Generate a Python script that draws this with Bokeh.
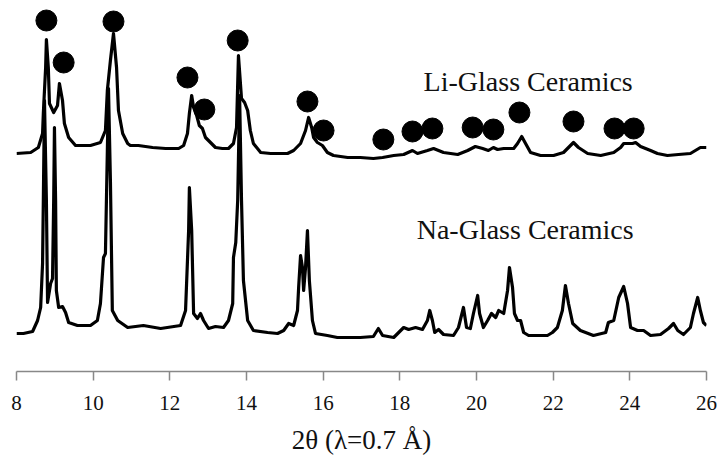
from bokeh.plotting import figure
from bokeh.models import Range1d, FixedTicker, Label
from bokeh.embed import file_html
from bokeh.resources import INLINE

# ---- data (2theta in degrees, intensity in arbitrary stacked units) ----
li_2theta = [8.00, 8.37, 8.57, 8.68, 8.70, 8.76, 8.78, 8.83, 8.86, 8.97, 9.07, 9.12, 9.20, 9.25, 9.36,
             9.54, 9.93, 10.19, 10.32, 10.37, 10.45, 10.53, 10.61, 10.66, 10.77, 10.90, 10.97, 11.18,
             11.55, 11.89, 12.23, 12.36, 12.46, 12.51, 12.57, 12.62, 12.70, 12.77, 12.85, 12.93, 13.06,
             13.19, 13.37, 13.53, 13.66, 13.74, 13.79, 13.87, 13.95, 14.03, 14.10, 14.18, 14.37, 14.63,
             15.07, 15.23, 15.41, 15.54, 15.62, 15.70, 15.75, 15.85, 15.98, 16.11, 16.27, 16.64, 16.97,
             17.31, 17.55, 17.84, 18.10, 18.33, 18.46, 18.72, 18.88, 19.14, 19.51, 19.77, 19.97, 20.16,
             20.31, 20.44, 20.55, 20.71, 20.97, 21.07, 21.18, 21.28, 21.41, 21.67, 22.01, 22.27, 22.40,
             22.53, 22.66, 22.90, 23.24, 23.58, 23.76, 23.84, 24.07, 24.15, 24.28, 24.54, 24.72, 24.98,
             25.27, 25.58, 25.71, 25.84, 26.00]
li_int = [218, 219, 224, 238, 258, 304, 332, 304, 268, 259, 266, 288, 271, 248, 234,
          226, 226, 229, 241, 281, 311, 338, 304, 261, 238, 228, 226, 226,
          224, 223, 223, 226, 238, 258, 276, 264, 256, 246, 243, 234, 229,
          224, 223, 223, 228, 244, 316, 273, 269, 261, 241, 228, 219, 218,
          218, 221, 228, 241, 254, 244, 234, 229, 226, 219, 216, 214, 214,
          213, 214, 216, 217, 221, 218, 221, 223, 219, 217, 221, 225, 223,
          221, 224, 222, 223, 223, 228, 235, 228, 219, 216, 216, 219, 224,
          229, 224, 218, 216, 219, 224, 228, 228, 229, 225, 221, 218, 216,
          217, 218, 221, 224, 224]

na_2theta = [8.00, 8.18, 8.42, 8.55, 8.63, 8.68, 8.70, 8.73, 8.78, 8.81, 8.89, 8.94, 8.97, 8.99, 9.02,
             9.04, 9.10, 9.20, 9.28, 9.36, 9.59, 9.93, 10.11, 10.19, 10.27, 10.32, 10.37, 10.40, 10.45,
             10.50, 10.64, 10.90, 11.31, 11.76, 12.28, 12.41, 12.49, 12.51, 12.57, 12.62, 12.72, 12.80,
             12.88, 13.01, 13.19, 13.40, 13.53, 13.64, 13.66, 13.72, 13.77, 13.82, 13.87, 13.92, 14.03,
             14.18, 14.55, 14.81, 14.97, 15.10, 15.23, 15.33, 15.36, 15.41, 15.46, 15.49, 15.54, 15.59,
             15.64, 15.72, 15.80, 16.11, 16.37, 16.97, 17.31, 17.44, 17.55, 17.84, 18.10, 18.23, 18.41,
             18.59, 18.72, 18.78, 18.85, 18.91, 19.01, 19.14, 19.40, 19.53, 19.66, 19.74, 19.84, 19.92,
             20.03, 20.08, 20.18, 20.29, 20.39, 20.50, 20.58, 20.71, 20.81, 20.86, 20.94, 20.99, 21.07,
             21.15, 21.23, 21.36, 21.85, 21.98, 22.11, 22.24, 22.32, 22.40, 22.51, 22.71, 23.05, 23.37,
             23.44, 23.58, 23.71, 23.84, 23.94, 24.02, 24.20, 24.36, 24.54, 24.80, 25.01, 25.14, 25.25,
             25.40, 25.58, 25.66, 25.77, 25.84, 25.92, 26.00]
na_int = [38, 38, 40, 51, 64, 108, 171, 271, 171, 69, 88, 93, 171, 244, 171,
          81, 64, 65, 59, 49, 46, 46, 51, 68, 114, 118, 221, 283, 191,
          61, 51, 44, 46, 43, 46, 61, 141, 184, 141, 58, 53, 58,
          51, 43, 45, 44, 51, 68, 114, 129, 171, 276, 171, 91, 51,
          41, 39, 38, 41, 48, 46, 61, 84, 116, 104, 81, 104, 141,
          91, 51, 38, 36, 34, 34, 35, 43, 36, 34, 44, 42, 44,
          42, 51, 61, 51, 39, 42, 37, 36, 44, 64, 44, 43, 58,
          76, 58, 44, 51, 58, 54, 61, 58, 81, 104, 84, 58, 51,
          51, 39, 36, 36, 39, 44, 61, 86, 68, 48, 41, 36, 39,
          49, 51, 74, 85, 68, 44, 41, 41, 36, 37, 43, 48, 41,
          37, 44, 58, 74, 61, 49, 46]

# phase markers (filled circles) above the Li-glass-ceramic reflections
marker_2theta = [8.78, 9.23, 10.53, 12.46, 12.90, 13.77, 15.59, 16.01, 17.57, 18.33, 18.85,
                 19.90, 20.44, 21.12, 22.53, 23.60, 24.10]
marker_int = [351, 309, 350, 294, 262, 331, 270, 241, 232, 240, 243, 244, 242, 259, 250, 243, 243]

tick_values = [8, 10, 12, 14, 16, 18, 20, 22, 24, 26]
label_li = "Li-Glass Ceramics"
label_na = "Na-Glass Ceramics"
x_title = "2θ (λ=0.7 Å)"

FONT = "Liberation Serif"

p = figure(width=720, height=457, output_backend="svg", toolbar_location=None,
           x_range=Range1d(8, 26), y_range=Range1d(0, 371),
           y_axis_location=None, min_border_left=16, min_border_right=14,
           min_border_top=0, min_border_bottom=86)
p.outline_line_color = None
p.xgrid.visible = False
p.ygrid.visible = False
p.background_fill_color = "white"
p.border_fill_color = "white"

p.line(li_2theta, li_int, line_color="black", line_width=3.2, line_join="round")
p.line(na_2theta, na_int, line_color="black", line_width=3.2, line_join="round")
p.scatter(marker_2theta, marker_int, size=21, fill_color="black", line_color="black")

p.add_layout(Label(x=18.62, y=290, text=label_li, text_font=FONT, text_font_size="28px",
                   text_color="#111111", text_baseline="alphabetic", text_align="left"))
p.add_layout(Label(x=18.44, y=142, text=label_na, text_font=FONT, text_font_size="28px",
                   text_color="#111111", text_baseline="alphabetic", text_align="left"))

ax = p.xaxis[0]
ax.ticker = FixedTicker(ticks=tick_values)
ax.axis_line_color = "#888888"
ax.axis_line_width = 1.5
ax.major_tick_line_color = "#888888"
ax.major_tick_line_width = 1.5
ax.major_tick_out = 9
ax.major_tick_in = 0
ax.minor_tick_line_color = None
ax.major_label_text_font = FONT
ax.major_label_text_font_size = "21px"
ax.major_label_text_color = "#111111"
ax.major_label_standoff = 15
ax.axis_label = x_title
ax.axis_label_text_font = FONT
ax.axis_label_text_font_size = "27px"
ax.axis_label_text_font_style = "normal"
ax.axis_label_text_color = "#111111"
ax.axis_label_standoff = 12

open("out.html", "w").write(file_html(p, INLINE))
